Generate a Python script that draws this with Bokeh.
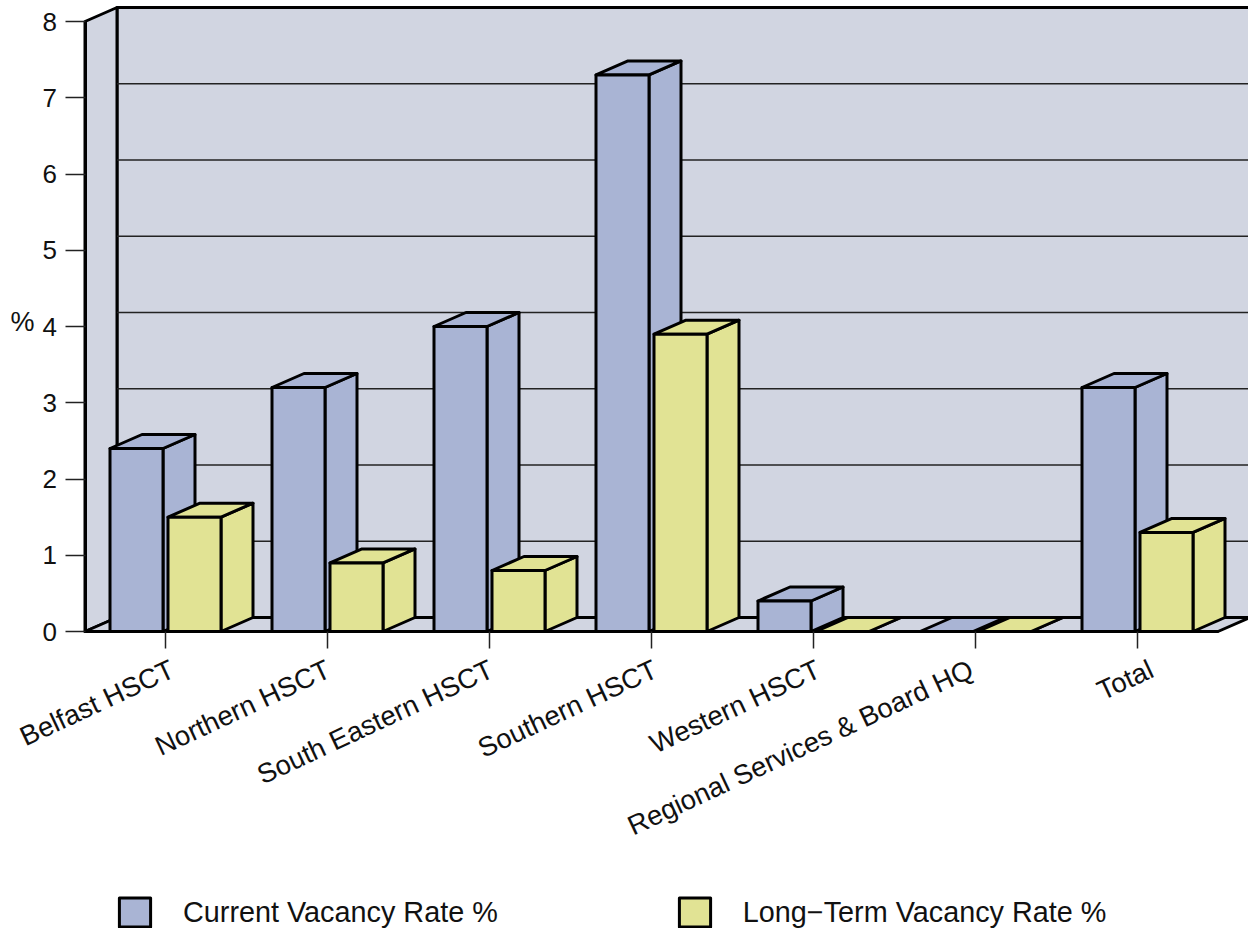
import math
from bokeh.plotting import figure
from bokeh.models import Range1d, FixedTicker, Legend, LegendItem, LinearAxis, Label
from bokeh.embed import file_html
from bokeh.resources import INLINE

categories = ["Belfast HSCT", "Northern HSCT", "South Eastern HSCT", "Southern HSCT",
              "Western HSCT", "Regional Services & Board HQ", "Total"]
current_rate = [2.4, 3.2, 4.0, 7.3, 0.4, 0.0, 3.2]
long_term_rate = [1.5, 0.9, 0.8, 3.9, 0.0, 0.0, 1.3]
y_ticks = [0, 1, 2, 3, 4, 5, 6, 7, 8]
series_names = ["Current Vacancy Rate %", "Long\u2212Term Vacancy Rate %"]

PX_X = 162.0     # pixels per category
PX_Y = 76.25     # pixels per unit
DX = 32 / PX_X   # depth offset
DY = 14 / PX_Y
WALL = "#D1D5E1"
BLUE = "#A9B4D4"
YELLOW = "#E1E394"
FONT = "Liberation Sans"
label_nudge_px = [7.5, 1.5, 2.5, 4.5, 5.5, -3.5, 14.5]

ORIGIN_PX = 164.5
x0 = -80 / PX_X
left, right = -ORIGIN_PX / PX_X, (1248 - ORIGIN_PX) / PX_X
y0, y1 = -297 / PX_Y, 631 / PX_Y
floor_end = len(categories) - 0.5

p = figure(frame_width=1248, frame_height=928, toolbar_location=None, output_backend="svg",
           x_range=Range1d(left, right), y_range=Range1d(y0, y1),
           min_border_left=0, min_border_right=0, min_border_top=0, min_border_bottom=0,
           outline_line_color=None, background_fill_color="white")
p.xgrid.visible = False
p.ygrid.visible = False

STROKE = dict(line_color="black", line_width=3, line_join="round")

# back wall, side wall, floor
p.patches([[x0 + DX, right + 1, right + 1, x0 + DX]], [[DY, DY, 8 + DY, 8 + DY]],
          fill_color=WALL, **STROKE)
p.patches([[x0, x0 + DX, x0 + DX, x0]], [[0, DY, 8 + DY, 8]], fill_color=WALL, **STROKE)
p.segment([x0 + DX] * 7, [v + DY for v in y_ticks[1:8]], [right] * 7, [v + DY for v in y_ticks[1:8]],
          line_color="#222222", line_width=1.5)
p.patches([[x0, x0 + DX, floor_end + DX, floor_end]], [[0, DY, DY, 0]], fill_color=WALL, **STROKE)


def bars(values, lo, hi, color):
    xs = [i + lo for i in range(len(values))]
    xe = [i + hi for i in range(len(values))]
    p.patches([[a, a + DX, a + DX, a] for a in xe],
              [[0, DY, v + DY, v] for v in values], fill_color=color, **STROKE)
    p.patches([[a, b, b + DX, a + DX] for a, b in zip(xs, xe)],
              [[v, v, v + DY, v + DY] for v in values], fill_color=color, **STROKE)
    return p.patches([[a, b, b, a] for a, b in zip(xs, xe)],
                     [[0, 0, v, v] for v in values], fill_color=color, **STROKE)


r1 = bars(current_rate, -55 / PX_X, -2 / PX_X, BLUE)
r2 = bars(long_term_rate, 3 / PX_X, 56 / PX_X, YELLOW)

# axes
ax = p.yaxis[0]
ax.fixed_location = x0
ax.ticker = FixedTicker(ticks=y_ticks)
ax.bounds = (0, 8)
ax.axis_line_width = 3
ax.axis_line_color = "black"
ax.major_tick_line_color = "#222222"
ax.major_tick_line_width = 1.5
ax.major_tick_out = 20
ax.major_tick_in = 0
ax.minor_tick_line_color = None
ax.major_label_text_font = FONT
ax.major_label_text_font_size = "26px"
ax.major_label_text_color = "#111111"
ax.major_label_standoff = 8

bx = p.xaxis[0]
bx.fixed_location = 0
bx.ticker = FixedTicker(ticks=list(range(len(categories))))
bx.major_label_overrides = {i: "" for i in range(len(categories))}
bx.bounds = (x0, floor_end)
bx.axis_line_width = 3
bx.axis_line_color = "black"
bx.major_tick_line_color = "#222222"
bx.major_tick_line_width = 1.5
bx.major_tick_out = 17
bx.major_tick_in = 0
bx.minor_tick_line_color = None

label_ticks = [i + n / PX_X for i, n in enumerate(label_nudge_px)]
lx = LinearAxis(fixed_location=0, ticker=FixedTicker(ticks=label_ticks),
                major_label_overrides={t: c for t, c in zip(label_ticks, categories)},
                axis_line_color=None, major_tick_line_color=None, minor_tick_line_color=None,
                major_tick_out=17, major_tick_in=0, major_label_standoff=19,
                major_label_orientation=math.radians(25),
                major_label_text_font=FONT, major_label_text_font_size="27.5px",
                major_label_text_color="#111111")
p.add_layout(lx, "below")

p.add_layout(Label(x=(10 - ORIGIN_PX) / PX_X, y=4.06, text="%", text_font=FONT, text_font_size="27px",
                   text_color="#111111", text_align="left", text_baseline="middle"))

legend = Legend(items=[LegendItem(label=series_names[0], renderers=[r1]),
                       LegendItem(label=series_names[1], renderers=[r2])],
                orientation="horizontal", location=(115, -2),
                glyph_width=39, glyph_height=36, label_standoff=29, spacing=177,
                padding=0, margin=0, border_line_color=None, background_fill_alpha=0,
                label_text_font=FONT, label_text_font_size="28.8px", label_text_color="#111111")
p.add_layout(legend)

open("out.html", "w").write(file_html(p, INLINE))
